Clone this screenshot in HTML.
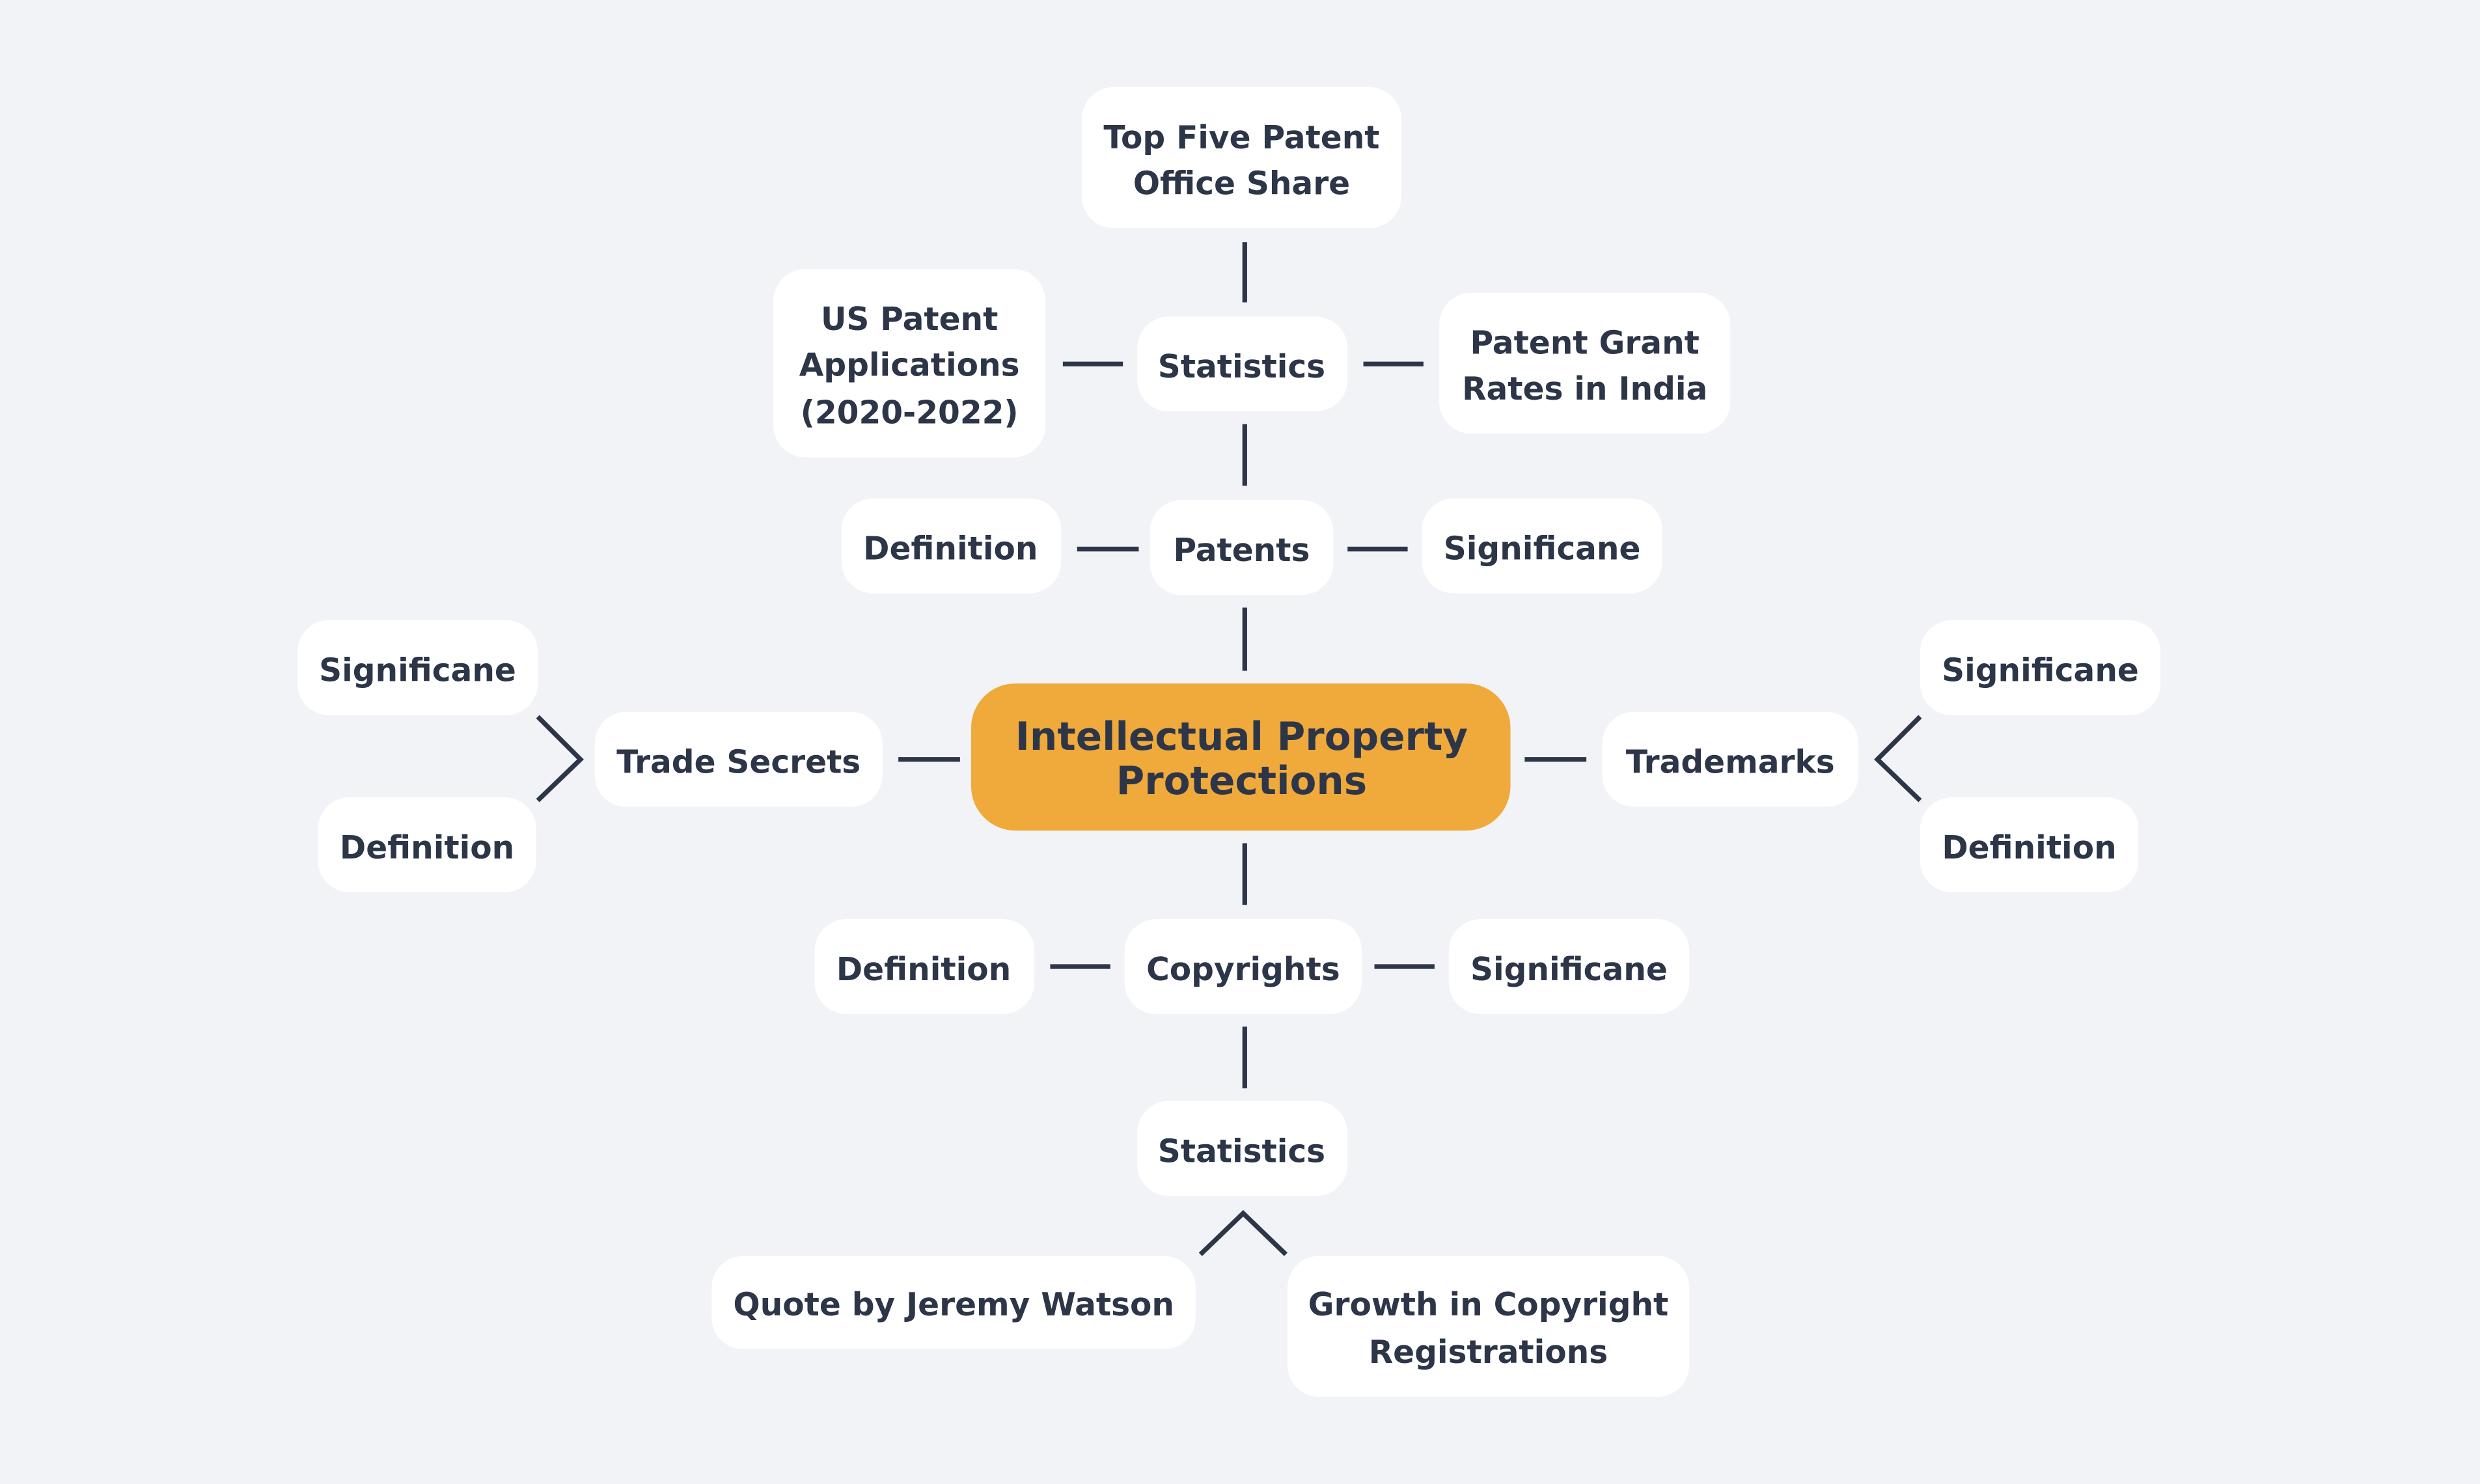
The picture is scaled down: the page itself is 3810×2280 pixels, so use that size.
<!DOCTYPE html>
<html><head><meta charset="utf-8"><style>
html,body{margin:0;padding:0;background:#f2f3f7;}
svg{display:block;}
text{font-family:"DejaVu Sans","Liberation Sans",sans-serif;font-weight:bold;fill:#2d3648;font-size:20px;text-anchor:middle;dominant-baseline:central;}
</style></head><body>
<svg width="3810" height="2280" viewBox="0 0 1568 938" xmlns="http://www.w3.org/2000/svg">
<rect width="1568" height="938" fill="#f2f3f7"/>
<g stroke="#2d3648" stroke-width="3" fill="none">
<line x1="787" y1="153" x2="787" y2="191"/>
<line x1="787" y1="268" x2="787" y2="307"/>
<line x1="787" y1="384" x2="787" y2="424"/>
<line x1="787" y1="533" x2="787" y2="572"/>
<line x1="787" y1="649" x2="787" y2="688"/>
<line x1="672" y1="230" x2="710" y2="230"/>
<line x1="862" y1="230" x2="900" y2="230"/>
<line x1="681" y1="347" x2="720" y2="347"/>
<line x1="852" y1="347" x2="890" y2="347"/>
<line x1="568" y1="480" x2="607" y2="480"/>
<line x1="964" y1="480" x2="1003" y2="480"/>
<line x1="664" y1="611" x2="702" y2="611"/>
<line x1="869" y1="611" x2="907" y2="611"/>
<polyline points="340,453 367,480 340,506"/>
<polyline points="1214,453 1187,480 1214,506"/>
<polyline points="759,793 786,767 813,793"/>
</g>
<g fill="#ffffff">
<rect x="684" y="55" width="202" height="89" rx="20"/>
<rect x="719" y="200" width="133" height="60" rx="20"/>
<rect x="489" y="170" width="172" height="119" rx="20"/>
<rect x="910" y="185" width="184" height="89" rx="20"/>
<rect x="532" y="315" width="139" height="60" rx="20"/>
<rect x="727" y="316" width="116" height="60" rx="20"/>
<rect x="899" y="315" width="152" height="60" rx="20"/>
<rect x="376" y="450" width="182" height="60" rx="20"/>
<rect x="188" y="392" width="152" height="60" rx="20"/>
<rect x="201" y="504" width="138" height="60" rx="20"/>
<rect x="1013" y="450" width="162" height="60" rx="20"/>
<rect x="1214" y="392" width="152" height="60" rx="20"/>
<rect x="1214" y="504" width="138" height="60" rx="20"/>
<rect x="711" y="581" width="150" height="60" rx="20"/>
<rect x="515" y="581" width="139" height="60" rx="20"/>
<rect x="916" y="581" width="152" height="60" rx="20"/>
<rect x="719" y="696" width="133" height="60" rx="20"/>
<rect x="450" y="794" width="306" height="59" rx="20"/>
<rect x="814" y="794" width="254" height="89" rx="20"/>
</g>
<rect x="614" y="432" width="341" height="93" rx="28" fill="#f0aa3c"/>
<text x="785" y="87">Top Five Patent</text>
<text x="785" y="116">Office Share</text>
<text x="785" y="232">Statistics</text>
<text x="575" y="202">US Patent</text>
<text x="575" y="231">Applications</text>
<text x="575" y="261">(2020-2022)</text>
<text x="1002" y="217">Patent Grant</text>
<text x="1002" y="246">Rates in India</text>
<text x="601" y="347">Definition</text>
<text x="785" y="348">Patents</text>
<text x="975" y="347">Significane</text>
<text x="467" y="482">Trade Secrets</text>
<text x="264" y="424">Significane</text>
<text x="270" y="536">Definition</text>
<text x="1094" y="482">Trademarks</text>
<text x="1290" y="424">Significane</text>
<text x="1283" y="536">Definition</text>
<text x="786" y="613">Copyrights</text>
<text x="584" y="613">Definition</text>
<text x="992" y="613">Significane</text>
<text x="785" y="728">Statistics</text>
<text x="603" y="825">Quote by Jeremy Watson</text>
<text x="941" y="825">Growth in Copyright</text>
<text x="941" y="855">Registrations</text>
<text x="785" y="466" style="font-size:24.5px">Intellectual Property</text>
<text x="785" y="494" style="font-size:24.5px">Protections</text>
</svg>
</body></html>
